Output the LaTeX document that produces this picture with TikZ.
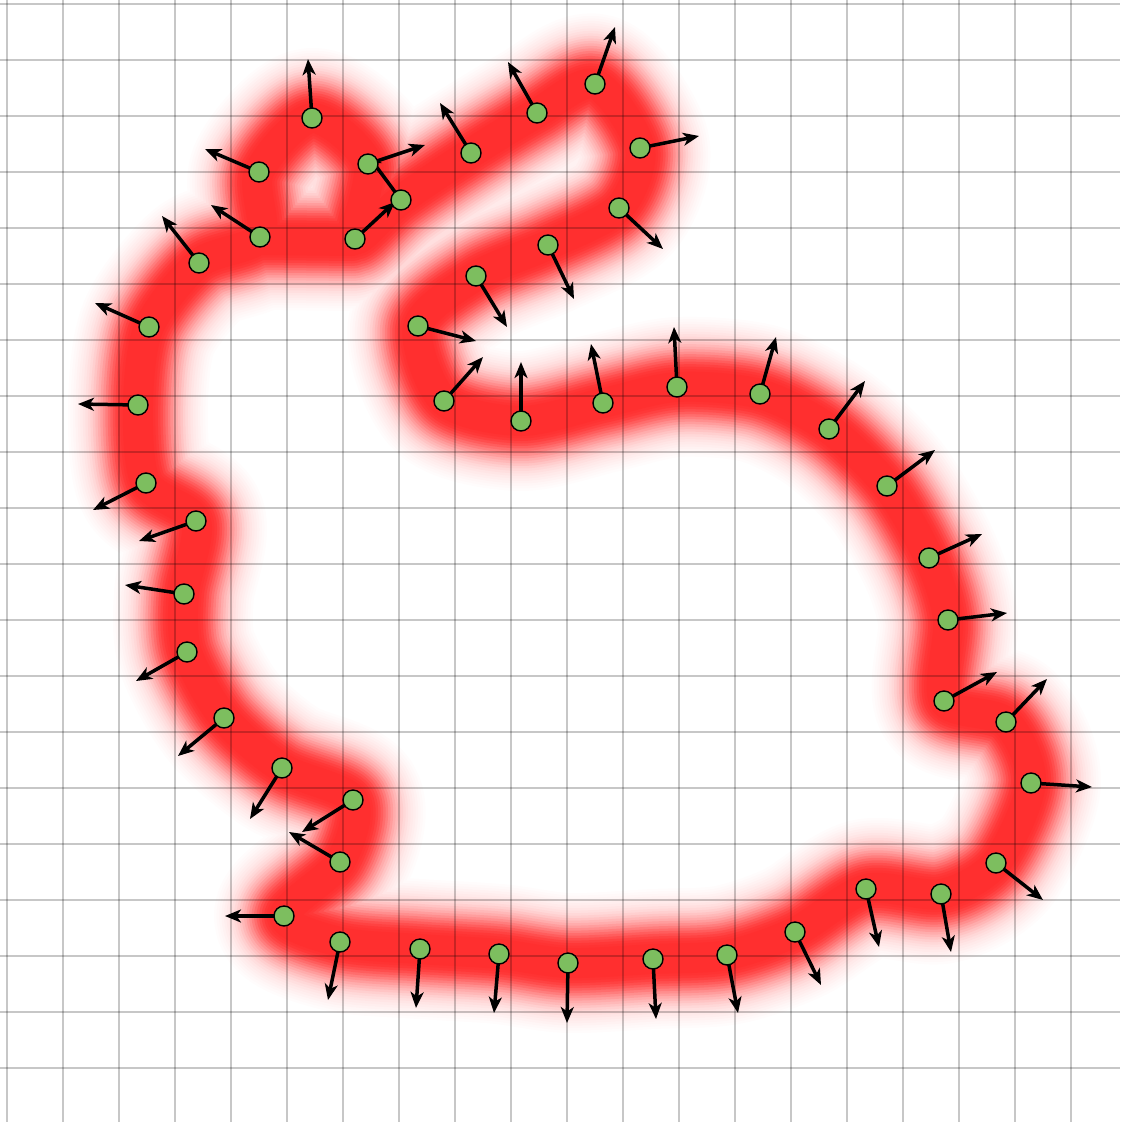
\documentclass[tikz,border=0pt]{standalone}
\usetikzlibrary{arrows.meta}
\definecolor{bandred}{RGB}{255,45,45}
\definecolor{ptgreen}{RGB}{125,190,95}
\begin{document}
\begin{tikzpicture}[x=1pt,y=-1pt,
  gridline/.style={draw=black,draw opacity=0.22,line width=1.9pt},
  nrm/.style={draw=black,line width=3.5pt,-{Stealth[length=16pt,width=13pt,inset=4.5pt]}},
  ptnode/.style={circle,draw=black,line width=1.4pt,fill=ptgreen,minimum size=20pt,inner sep=0pt}]
\useasboundingbox (0,0) rectangle (1120,1122);
\fill[white] (0,0) rectangle (1120,1122);
% blurred red band (layered strokes imitate a blur)
\foreach \w/\o in {140/0.01,135/0.0101,130/0.0102,125/0.0155,120/0.0157,115/0.0213,110/0.0217,
  105/0.0333,100/0.0345,95/0.0476,90/0.0625,85/0.08,80/0.087,75/0.119,70/0.135,65/0.167,
  60/0.2,55/0.234,50/0.306,45/0.353,40/0.455,35/0.417,30/0.571}{
  \draw[draw=bandred,line width=\w pt,draw opacity=\o,line join=round,line cap=round]
  plot[smooth cycle,tension=0.5] coordinates {
  (444,401) (521,421) (603,403) (677,387) (760,394) (829,429) (887,486) (929,558)
  (948,620) (944,701) (1006,722) (1031,783) (996,863) (941,894) (866,889) (795,932)
  (727,955) (653,959) (568,963) (499,954) (420,949) (340,942) (284,916) (340,862)
  (353,800) (282,768) (224,718) (187,652) (184,594) (196,521) (146,483) (138,405)
  (149,327) (199,263) (260,237) (259,172) (312,118) (368,164) (355,239) (401,200)
  (471,153) (537,113) (595,84) (640,148) (619,208) (548,245) (476,276) (418,326)}
  (262,240) -- (352,241);
}
% grid
\foreach \k in {0,...,19}{
  \draw[gridline] (7+56*\k,0) -- (7+56*\k,1122);
  \draw[gridline] (0,4+56*\k) -- (1120,4+56*\k);
}
% points and normals
\foreach \i/\cx/\cy/\tx/\ty in {
 1/444/401/483/357, 2/521/421/521/362, 3/603/403/591/344, 4/677/387/674/327,
 5/760/394/776/337, 6/829/429/865/381, 7/887/486/935/450, 8/929/558/982/534,
 9/948/620/1007/613, 10/944/701/997/672, 11/1006/722/1047/679, 12/1031/783/1092/787,
 13/996/863/1043/900, 14/941/894/951/952, 15/866/889/879/947, 16/795/932/821/985,
 17/727/955/738/1013, 18/653/959/656/1019, 19/568/963/567/1023, 20/499/954/494/1013,
 21/420/949/416/1008, 22/340/942/328/1000, 23/284/916/225/916, 24/340/862/289/832,
 25/353/800/302/832, 26/282/768/250/819, 27/224/718/178/756, 28/187/652/136/681,
 29/184/594/125/585, 30/196/521/139/541, 31/146/483/93/510, 32/138/405/78/404,
 33/149/327/95/303, 34/199/263/162/216, 35/260/237/211/205, 36/259/172/205/149,
 37/312/118/308/59, 38/355/239/395/202, 39/401/200/367/154, 40/368/164/425/145,
 41/471/153/440/103, 42/537/113/508/62, 43/595/84/615/27, 44/640/148/699/136,
 45/619/208/663/249, 46/548/245/574/299, 47/476/276/507/327, 48/418/326/476/341}{
  \coordinate (c\i) at (\cx,\cy);
  \coordinate (t\i) at (\tx,\ty);
  \draw[nrm] (c\i) -- (t\i);
}
\foreach \i/\cx/\cy in {
 1/444/401, 2/521/421, 3/603/403, 4/677/387, 5/760/394, 6/829/429, 7/887/486, 8/929/558,
 9/948/620, 10/944/701, 11/1006/722, 12/1031/783, 13/996/863, 14/941/894, 15/866/889, 16/795/932,
 17/727/955, 18/653/959, 19/568/963, 20/499/954, 21/420/949, 22/340/942, 23/284/916, 24/340/862,
 25/353/800, 26/282/768, 27/224/718, 28/187/652, 29/184/594, 30/196/521, 31/146/483, 32/138/405,
 33/149/327, 34/199/263, 35/260/237, 36/259/172, 37/312/118, 38/355/239, 39/401/200, 40/368/164,
 41/471/153, 42/537/113, 43/595/84, 44/640/148, 45/619/208, 46/548/245, 47/476/276, 48/418/326}{
  \node[ptnode] (p\i) at (\cx,\cy) {};
}
\end{tikzpicture}
\end{document}
